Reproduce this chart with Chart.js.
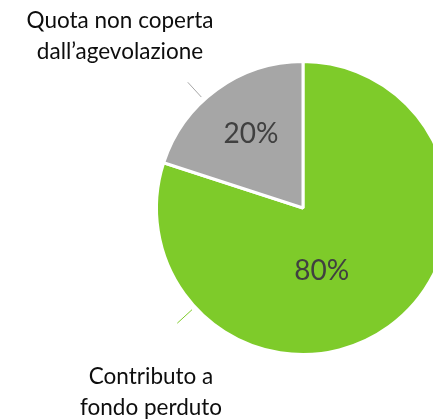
<!DOCTYPE html>
<html>
<head>
<meta charset="utf-8">
<script src="https://cdn.jsdelivr.net/npm/chart.js@4"></script>
<style>
  html, body { margin: 0; padding: 0; background: #fff; overflow: hidden; }
  #wrap { width: 433px; height: 419px; overflow: hidden; }
</style>
</head>
<body>
<div id="wrap"><canvas id="pie" width="470" height="419"></canvas></div>
<script>
const labels = ['Contributo a fondo perduto', 'Quota non coperta dall\u2019agevolazione'];
const values = [80, 20];
const colors = ['#7ECB2A', '#A6A6A6'];

// Excel-style callouts: leader angle, text anchor, and where the % sits
const callouts = [
  { lines: ['Contributo a', 'fondo perduto'], angle: 137.5, x: 151, y: 377, pctAngle: 73.5, pctR: 0.45 },
  { lines: ['Quota non coperta', 'dall\u2019agevolazione'], angle: -132.5, x: 120, y: 21, pctAngle: -125, pctR: 0.62 }
];

const labelPlugin = {
  id: 'pieLabels',
  afterDatasetsDraw(chart) {
    const ctx = chart.ctx;
    const meta = chart.getDatasetMeta(0);
    const total = values.reduce((a, b) => a + b, 0);
    ctx.save();
    ctx.textAlign = 'center';
    ctx.textBaseline = 'middle';
    meta.data.forEach((arc, i) => {
      const p = arc.getProps(['x', 'y', 'outerRadius']);
      const c = callouts[i];

      // percentage inside the slice
      const pa = c.pctAngle * Math.PI / 180;
      const r = p.outerRadius * c.pctR;
      ctx.fillStyle = '#404040';
      ctx.font = '28px Lato';
      ctx.fillText(Math.round(values[i] / total * 100) + '%', p.x + Math.cos(pa) * r, p.y + Math.sin(pa) * r);

      // leader line
      const a = c.angle * Math.PI / 180;
      ctx.strokeStyle = colors[i];
      ctx.lineWidth = 1;
      ctx.beginPath();
      ctx.moveTo(p.x + Math.cos(a) * (p.outerRadius + 4), p.y + Math.sin(a) * (p.outerRadius + 4));
      ctx.lineTo(p.x + Math.cos(a) * (p.outerRadius + 24), p.y + Math.sin(a) * (p.outerRadius + 24));
      ctx.stroke();

      ctx.fillStyle = '#0D0D0D';
      ctx.font = '22.5px Lato';
      c.lines.forEach((t, k) => ctx.fillText(t, c.x, c.y + k * 31));
    });
    ctx.restore();
  }
};

new Chart(document.getElementById('pie'), {
  type: 'pie',
  data: {
    labels: labels,
    datasets: [{
      data: values,
      backgroundColor: colors,
      borderColor: '#FFFFFF',
      borderWidth: 3
    }]
  },
  options: {
    responsive: false,
    animation: false,
    layout: { padding: { left: 155, right: 19, top: 60, bottom: 63 } },
    plugins: {
      legend: { display: false },
      tooltip: { enabled: false }
    }
  },
  plugins: [labelPlugin]
});
</script>
</body>
</html>
